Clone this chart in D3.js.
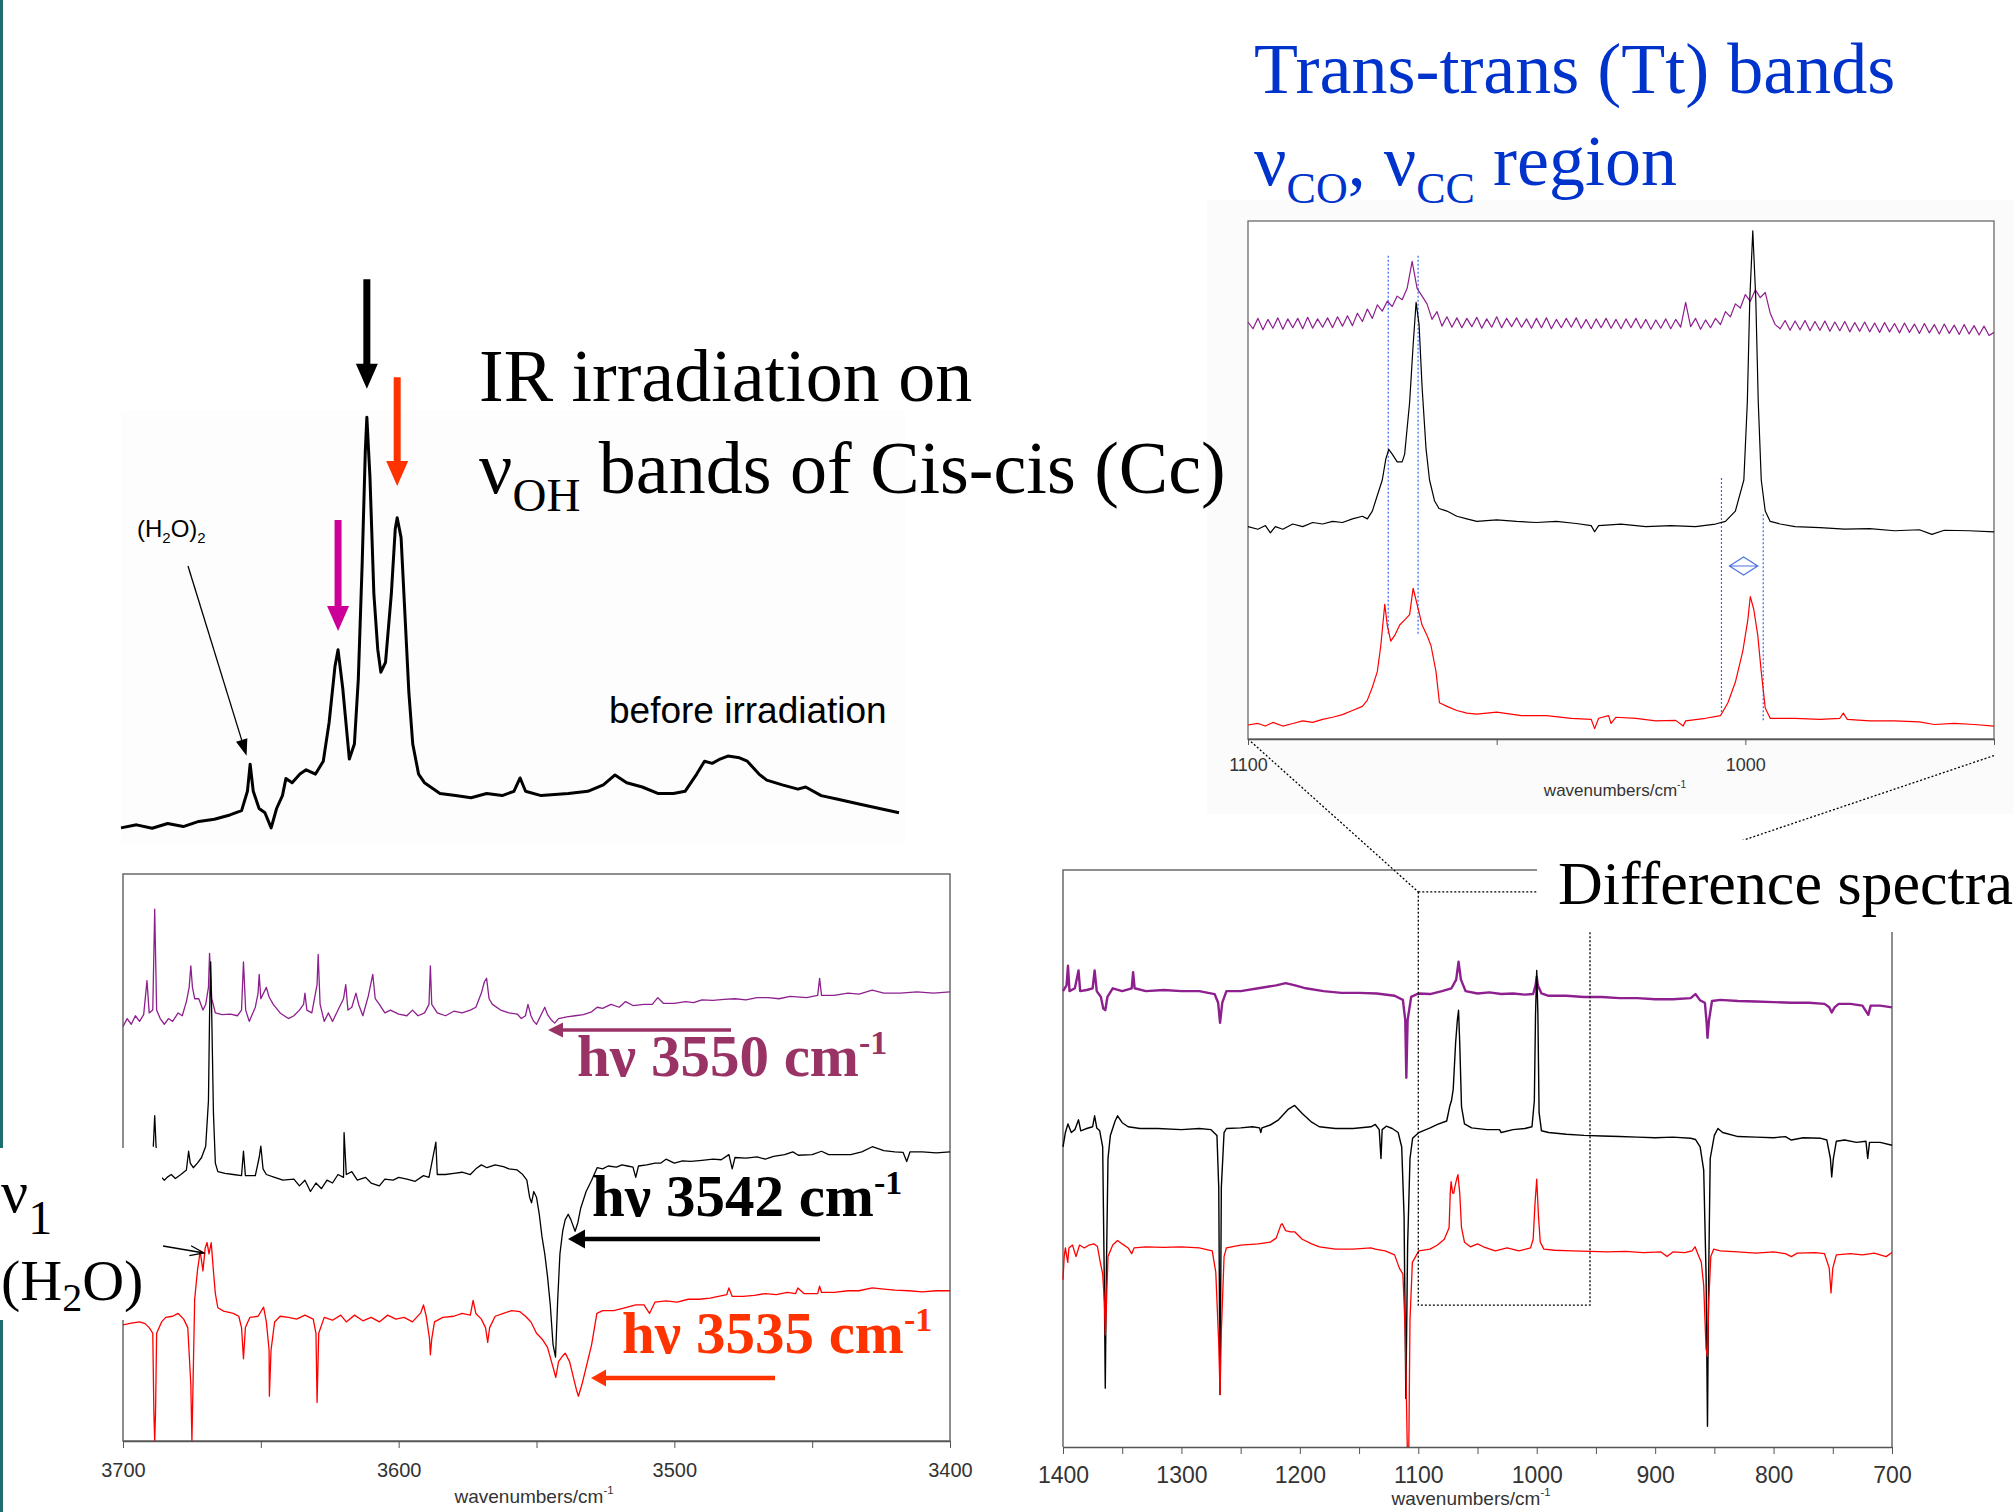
<!DOCTYPE html>
<html>
<head>
<meta charset="utf-8">
<script src="https://d3js.org/d3.v7.min.js"></script>
<style>
body { margin: 0; background: #fff; }
svg { display: block; }
.serif { font-family: "Liberation Serif", "Times New Roman", serif; }
.sans { font-family: "Liberation Sans", Arial, sans-serif; }
</style>
</head>
<body>
<div id="chart"></div>
<script>
// ---- before irradiation, Cc OH stretch region [wavenumber, absorbance] ----
var beforeIrr = [[3620,0.005],[3616,0.012],[3612,0.004],[3608,0.015],[3604,0.008],[3600,0.02],[3596,0.025],[3592,0.035],[3589,0.045],[3587.5,0.09],[3586.8,0.153],[3586,0.09],[3584.5,0.05],[3583,0.04],[3581.4,0.005],[3580,0.05],[3578.5,0.08],[3577.6,0.12],[3576,0.11],[3574,0.13],[3572.4,0.14],[3570,0.13],[3568,0.16],[3566.5,0.25],[3565,0.38],[3564.2,0.419],[3563,0.33],[3561.3,0.165],[3560,0.2],[3559,0.35],[3558,0.62],[3557.2,0.88],[3556.8,0.96],[3556,0.82],[3555,0.55],[3554,0.42],[3553.2,0.367],[3552,0.39],[3550.5,0.55],[3549.5,0.70],[3549,0.726],[3548,0.68],[3547,0.50],[3546,0.32],[3545,0.20],[3543.5,0.13],[3542,0.11],[3538,0.085],[3534,0.08],[3530,0.075],[3526,0.085],[3522,0.08],[3519,0.09],[3517.4,0.121],[3516,0.09],[3512,0.08],[3505,0.085],[3500,0.09],[3496,0.105],[3493,0.128],[3490,0.11],[3486,0.1],[3482,0.085],[3478,0.085],[3475,0.09],[3472,0.13],[3470,0.16],[3468,0.155],[3466,0.165],[3464,0.172],[3461,0.168],[3459,0.16],[3456,0.13],[3454,0.116],[3450,0.105],[3446,0.095],[3444,0.1],[3440,0.08],[3436,0.072],[3430,0.06],[3425,0.05],[3420,0.04]];
var cisPeaks = [3564.2, 3556.8, 3549.0];

// ---- difference spectra, OH region ----
var diffOH3550 = [[3700,0.731],[3698.5,0.745],[3697,0.735],[3695.5,0.75],[3694,0.74],[3692.5,0.752],[3691.3,0.812],[3690.5,0.755],[3689.2,0.76],[3688.5,0.938],[3687.8,0.76],[3686.5,0.745],[3685,0.735],[3683.5,0.745],[3682,0.74],[3680,0.755],[3678.5,0.75],[3677,0.775],[3676,0.80],[3675.4,0.838],[3674.8,0.80],[3674,0.78],[3672.5,0.78],[3671,0.76],[3670,0.77],[3669,0.80],[3668.6,0.86],[3667.8,0.78],[3666.5,0.755],[3664,0.752],[3661,0.753],[3658.5,0.75],[3657,0.76],[3656.3,0.845],[3655.5,0.76],[3654.2,0.74],[3652,0.765],[3651,0.79],[3650.6,0.823],[3650,0.78],[3648,0.80],[3647,0.783],[3645.5,0.77],[3643,0.755],[3640,0.745],[3638,0.75],[3636,0.76],[3634.5,0.77],[3634,0.79],[3633.3,0.76],[3631.5,0.755],[3629.6,0.805],[3629.2,0.858],[3628.5,0.77],[3627,0.74],[3625.5,0.755],[3624,0.74],[3622,0.76],[3620,0.78],[3619.2,0.805],[3618.4,0.76],[3617,0.765],[3615.5,0.79],[3614.5,0.77],[3613,0.75],[3611,0.785],[3609.4,0.823],[3608.5,0.78],[3607,0.77],[3605,0.755],[3603,0.76],[3600,0.753],[3597,0.75],[3595,0.76],[3593,0.75],[3590.6,0.755],[3589,0.77],[3588.5,0.838],[3588,0.77],[3586,0.755],[3583,0.75],[3580,0.758],[3577,0.755],[3574,0.76],[3572,0.765],[3570,0.79],[3568.9,0.81],[3568.1,0.816],[3567.2,0.78],[3566,0.77],[3563,0.76],[3560,0.755],[3557,0.753],[3555.5,0.745],[3554,0.75],[3553.1,0.77],[3552,0.75],[3551,0.74],[3550,0.735],[3548.5,0.75],[3547,0.765],[3546,0.752],[3544.5,0.742],[3543.4,0.737],[3542,0.745],[3539,0.748],[3536,0.75],[3533,0.752],[3530,0.757],[3528,0.765],[3526,0.763],[3523,0.77],[3520,0.765],[3517.7,0.775],[3515,0.768],[3511,0.77],[3508,0.77],[3506,0.782],[3504,0.772],[3500,0.772],[3496,0.775],[3493,0.773],[3490,0.778],[3486,0.777],[3482,0.779],[3478,0.78],[3474,0.778],[3470,0.782],[3466,0.782],[3462,0.78],[3458,0.784],[3452,0.782],[3448,0.786],[3447.3,0.816],[3446.6,0.786],[3442,0.786],[3437,0.79],[3433,0.788],[3428.2,0.795],[3424,0.79],[3418,0.79],[3412,0.792],[3406,0.79],[3400,0.792]];
var diffOH3542 = [[3689,0.519],[3688.5,0.574],[3688,0.519],[3687,0.47],[3686,0.465],[3685,0.46],[3684,0.465],[3682.5,0.47],[3681,0.463],[3679,0.47],[3677,0.478],[3676.2,0.511],[3675.6,0.49],[3674.5,0.482],[3673,0.49],[3671.5,0.50],[3670,0.52],[3669,0.6],[3668.6,0.75],[3668.2,0.845],[3667.8,0.75],[3667.2,0.58],[3666.5,0.49],[3665.6,0.475],[3663,0.472],[3660,0.47],[3657,0.468],[3656.3,0.511],[3655.6,0.468],[3652,0.468],[3650.6,0.5],[3650,0.52],[3649.2,0.48],[3648,0.47],[3645,0.465],[3642,0.46],[3638,0.462],[3636,0.45],[3634,0.46],[3632,0.44],[3630,0.455],[3628,0.445],[3626,0.46],[3624,0.455],[3622,0.47],[3620,0.465],[3619.8,0.544],[3619,0.47],[3617,0.475],[3615,0.46],[3612,0.465],[3610,0.455],[3607,0.45],[3605,0.462],[3602,0.46],[3600,0.465],[3597,0.462],[3594,0.458],[3591,0.468],[3589,0.465],[3586.5,0.527],[3586,0.47],[3583,0.47],[3580,0.472],[3577,0.474],[3574,0.47],[3572,0.48],[3570,0.487],[3568,0.482],[3565,0.487],[3562,0.484],[3560,0.48],[3557,0.478],[3555,0.47],[3553.5,0.46],[3552.5,0.43],[3551.8,0.42],[3551,0.44],[3550,0.43],[3549,0.40],[3548,0.36],[3547,0.33],[3546,0.29],[3545,0.24],[3544,0.17],[3543.1,0.148],[3542.3,0.25],[3541.5,0.33],[3540.5,0.37],[3539.6,0.39],[3538.5,0.40],[3537.5,0.39],[3536,0.37],[3535,0.385],[3534,0.41],[3532,0.44],[3530,0.46],[3528,0.482],[3526,0.48],[3524,0.485],[3521,0.483],[3519,0.487],[3517,0.485],[3515,0.483],[3514,0.465],[3513,0.485],[3510,0.487],[3507,0.49],[3505,0.49],[3503,0.497],[3500,0.49],[3497,0.494],[3494,0.493],[3490,0.495],[3486,0.497],[3483,0.496],[3480.2,0.505],[3479,0.48],[3478,0.5],[3474,0.499],[3470,0.501],[3467,0.497],[3464,0.502],[3460,0.505],[3457,0.51],[3455,0.504],[3450,0.505],[3446.6,0.511],[3444,0.505],[3440,0.505],[3436,0.505],[3432,0.51],[3428.2,0.519],[3424,0.512],[3420,0.51],[3417,0.509],[3415.7,0.493],[3414.5,0.51],[3410,0.51],[3405,0.508],[3400,0.51]];
var diffOH3535 = [[3700,0.205],[3697,0.208],[3694,0.21],[3692,0.207],[3690.5,0.2],[3689.2,0.19],[3688.8,0.05],[3688.5,0.0],[3688.2,0.05],[3687.8,0.19],[3686,0.21],[3684.5,0.218],[3682,0.22],[3680,0.225],[3678,0.215],[3676.5,0.2],[3675.4,0.1],[3675,0.0],[3674.6,0.1],[3674,0.25],[3673,0.3],[3672,0.335],[3671,0.3],[3670.2,0.34],[3669.5,0.35],[3668.8,0.33],[3668,0.35],[3667.2,0.3],[3666.5,0.26],[3665.6,0.235],[3663.5,0.229],[3660,0.225],[3658,0.22],[3657,0.2],[3656.3,0.145],[3655.6,0.2],[3654,0.218],[3651,0.22],[3649,0.236],[3648,0.21],[3647,0.16],[3646.9,0.079],[3646.3,0.16],[3645,0.21],[3643,0.22],[3640,0.218],[3637,0.215],[3634,0.222],[3631,0.215],[3630,0.19],[3629.6,0.068],[3629,0.19],[3627,0.218],[3624,0.213],[3621,0.222],[3619,0.21],[3616,0.222],[3613,0.212],[3610,0.218],[3607,0.21],[3604,0.222],[3601,0.215],[3598,0.218],[3595,0.21],[3592,0.226],[3591,0.24],[3590,0.22],[3588.8,0.18],[3588.5,0.152],[3588,0.18],[3587,0.21],[3584,0.218],[3580,0.22],[3577,0.225],[3574,0.222],[3573,0.248],[3572,0.225],[3570,0.215],[3568.5,0.2],[3567.7,0.174],[3567,0.2],[3565,0.22],[3562,0.225],[3559,0.23],[3556,0.228],[3554,0.22],[3552,0.21],[3550,0.19],[3548,0.18],[3546,0.165],[3544,0.13],[3543,0.112],[3542,0.14],[3540.5,0.15],[3539.6,0.155],[3538,0.14],[3536.5,0.11],[3535.5,0.09],[3534.8,0.079],[3533.5,0.1],[3532,0.13],[3530,0.17],[3528.1,0.225],[3526,0.23],[3522,0.23],[3518,0.235],[3514,0.24],[3511,0.24],[3509,0.225],[3507,0.245],[3503,0.247],[3499,0.245],[3495,0.25],[3491,0.25],[3487,0.252],[3484,0.255],[3481,0.258],[3480.2,0.27],[3479,0.255],[3475,0.255],[3471,0.257],[3467,0.26],[3463,0.258],[3459,0.262],[3456,0.26],[3455.2,0.27],[3453,0.26],[3448,0.26],[3447.3,0.273],[3446.6,0.262],[3442,0.262],[3437,0.265],[3433,0.265],[3428.2,0.27],[3424,0.268],[3420,0.266],[3415,0.265],[3410,0.263],[3405,0.265],[3400,0.265]];
var pumpLabels = ['3550', '3542', '3535'];

// ---- difference spectra, 1400-700 cm-1 ----
var diffCO3550 = [[1400,0.79],[1397,0.80],[1395.8,0.834],[1394.5,0.79],[1390,0.795],[1386.9,0.826],[1385.5,0.79],[1380,0.792],[1375,0.795],[1373.3,0.826],[1371.5,0.79],[1368,0.78],[1366,0.76],[1364.3,0.757],[1362.5,0.78],[1358,0.795],[1350,0.79],[1342,0.795],[1340.8,0.823],[1339.5,0.795],[1330,0.79],[1315,0.792],[1300,0.79],[1285,0.79],[1272,0.785],[1269,0.77],[1267.4,0.735],[1265.5,0.77],[1262,0.79],[1250,0.79],[1235,0.795],[1220,0.80],[1212,0.804],[1204,0.80],[1195,0.795],[1180,0.79],[1165,0.787],[1150,0.787],[1135,0.786],[1120,0.782],[1113,0.775],[1111,0.74],[1110.1,0.64],[1109,0.74],[1106,0.78],[1100,0.786],[1090,0.785],[1080,0.79],[1072,0.795],[1068,0.81],[1066,0.841],[1064,0.81],[1060,0.79],[1050,0.786],[1040,0.788],[1030,0.785],[1020,0.786],[1010,0.784],[1003,0.785],[1001,0.80],[1000,0.815],[999,0.80],[996,0.786],[990,0.782],[975,0.782],[960,0.78],[945,0.78],[930,0.778],[915,0.778],[900,0.776],[885,0.776],[870,0.778],[866,0.785],[862,0.774],[858,0.77],[856.5,0.735],[855.8,0.709],[854.5,0.74],[852,0.773],[845,0.775],[830,0.773],[815,0.772],[800,0.771],[785,0.77],[770,0.77],[757,0.768],[753,0.762],[750.9,0.753],[748.5,0.762],[745,0.768],[735,0.768],[725,0.765],[720,0.749],[718,0.765],[710,0.765],[700,0.762]];
var diffCO3542 = [[1400,0.52],[1398,0.545],[1395.8,0.56],[1393,0.545],[1390,0.55],[1386.9,0.567],[1385,0.548],[1380,0.552],[1375,0.555],[1373.3,0.574],[1371.5,0.553],[1369,0.548],[1366.5,0.52],[1365.2,0.30],[1364.3,0.102],[1363.4,0.30],[1362,0.50],[1360,0.54],[1356,0.565],[1353.9,0.574],[1350,0.562],[1345,0.555],[1335,0.552],[1320,0.552],[1300,0.55],[1285,0.552],[1275,0.55],[1270,0.54],[1268.5,0.45],[1267.4,0.091],[1266.3,0.45],[1264,0.545],[1262,0.552],[1250,0.553],[1240,0.555],[1234,0.553],[1233,0.545],[1232,0.553],[1225,0.558],[1218,0.567],[1210,0.585],[1204.4,0.592],[1198,0.578],[1190,0.563],[1183.5,0.555],[1170,0.552],[1155,0.552],[1140,0.555],[1136.3,0.559],[1133,0.55],[1131.5,0.50],[1130.5,0.55],[1127,0.556],[1122,0.552],[1117,0.545],[1114,0.52],[1112,0.40],[1110.5,0.084],[1109,0.35],[1107,0.50],[1104.8,0.535],[1099.6,0.545],[1090,0.553],[1083.8,0.559],[1076,0.565],[1073.5,0.59],[1072,0.60],[1070.5,0.62],[1068.5,0.70],[1067,0.74],[1066,0.757],[1065,0.70],[1063.5,0.59],[1061,0.56],[1055,0.553],[1041.9,0.55],[1031.4,0.55],[1030,0.545],[1020,0.55],[1010,0.552],[1004,0.555],[1002,0.60],[1001,0.75],[1000,0.826],[999,0.75],[998,0.58],[996,0.548],[990,0.545],[975,0.542],[960,0.54],[945,0.539],[930,0.538],[915,0.537],[900,0.536],[885,0.537],[870,0.535],[866,0.533],[862,0.52],[859,0.48],[857,0.30],[855.8,0.036],[854.8,0.30],[853.5,0.50],[850,0.54],[847,0.552],[843,0.545],[830,0.538],[815,0.537],[800,0.536],[790,0.538],[785,0.532],[775,0.536],[760,0.535],[755,0.532],[752,0.50],[750.9,0.468],[749.5,0.50],[747,0.53],[740,0.532],[730,0.528],[722,0.53],[720.5,0.50],[719,0.528],[710,0.528],[700,0.523]];
var diffCO3535 = [[1400,0.29],[1399,0.33],[1398,0.345],[1396,0.32],[1395,0.345],[1392,0.35],[1389,0.33],[1386,0.35],[1382,0.345],[1378,0.35],[1374,0.352],[1371,0.348],[1368.5,0.32],[1366.5,0.30],[1365,0.25],[1364.3,0.194],[1363.3,0.25],[1362,0.33],[1358,0.35],[1353.9,0.358],[1350,0.352],[1345,0.345],[1342,0.335],[1340,0.345],[1330,0.347],[1315,0.346],[1300,0.347],[1285,0.345],[1274,0.34],[1271,0.303],[1268.5,0.18],[1267.4,0.091],[1266.3,0.2],[1264,0.33],[1262,0.345],[1250,0.35],[1235,0.352],[1225,0.355],[1220,0.362],[1216,0.385],[1214.9,0.387],[1212,0.375],[1208,0.373],[1204.4,0.373],[1198,0.36],[1190,0.352],[1183.5,0.347],[1170,0.343],[1155,0.343],[1140,0.345],[1136.3,0.343],[1128,0.34],[1120,0.333],[1116,0.31],[1113,0.3],[1111,0.2],[1109.3,0.0],[1108,0.0],[1107,0.22],[1105,0.32],[1099.6,0.34],[1090,0.343],[1083.8,0.35],[1078,0.36],[1074,0.38],[1073,0.44],[1072.3,0.46],[1071,0.44],[1070,0.44],[1069.2,0.45],[1067.5,0.465],[1066.5,0.472],[1065,0.44],[1063.5,0.38],[1061,0.355],[1056,0.347],[1050,0.352],[1045,0.347],[1035,0.34],[1025,0.345],[1015,0.34],[1005.2,0.345],[1003,0.36],[1001.5,0.42],[1000,0.464],[998.5,0.4],[997,0.355],[994,0.343],[985,0.341],[970,0.34],[955,0.339],[940,0.338],[925,0.339],[910,0.337],[895,0.338],[890,0.33],[885,0.338],[875,0.337],[868.9,0.34],[866.3,0.347],[864,0.335],[861,0.32],[859,0.28],[857,0.17],[855.8,0.157],[854.8,0.25],[853,0.33],[850.5,0.343],[845,0.34],[830,0.338],[815,0.336],[800,0.338],[790,0.335],[785,0.33],[780,0.336],[765,0.337],[757,0.335],[753,0.31],[751.5,0.267],[750,0.31],[747,0.333],[735,0.335],[725,0.333],[715,0.336],[705,0.33],[700,0.337]];
var zoomWindow = [1100, 955];

// ---- zoom on Tt bands, 1100-950 cm-1 ----
var zoomCO3550 = [[1100,.805],[1099,.792],[1098,.812],[1097,.790],[1096,.810],[1095,.793],[1094,.813],[1093,.791],[1092,.811],[1091,.794],[1090,.812],[1089,.792],[1088,.814],[1087,.793],[1086,.811],[1085,.795],[1084,.813],[1083,.794],[1082,.815],[1081,.797],[1080,.817],[1079,.798],[1078,.822],[1077,.806],[1076,.830],[1075,.812],[1074,.838],[1073,.826],[1072,.845],[1071,.835],[1070,.855],[1069,.848],[1068,.870],[1067,.922],[1066,.870],[1065,.855],[1064,.840],[1063,.810],[1062,.825],[1061,.797],[1060,.815],[1059,.795],[1058,.813],[1057,.794],[1056,.812],[1055,.796],[1054,.814],[1053,.793],[1052,.811],[1051,.795],[1050,.815],[1049,.794],[1048,.812],[1047,.796],[1046,.813],[1045,.795],[1044,.811],[1043,.793],[1042,.812],[1041,.794],[1040,.813],[1039,.792],[1038,.810],[1037,.794],[1036,.812],[1035,.795],[1034,.813],[1033,.793],[1032,.810],[1031,.792],[1030,.811],[1029,.794],[1028,.812],[1027,.793],[1026,.810],[1025,.792],[1024,.811],[1023,.794],[1022,.812],[1021,.793],[1020,.810],[1019,.791],[1018,.809],[1017,.793],[1016,.811],[1015,.792],[1014,.810],[1013,.795],[1012,.843],[1011,.796],[1010,.812],[1009,.791],[1008,.809],[1007,.794],[1006,.812],[1005,.800],[1004,.825],[1003,.815],[1002,.840],[1001,.832],[1000,.858],[999,.845],[998,.867],[997,.852],[996,.862],[995,.822],[994,.800],[993,.792],[992,.808],[991,.789],[990,.807],[989,.790],[988,.808],[987,.788],[986,.806],[985,.789],[984,.807],[983,.787],[982,.805],[981,.788],[980,.806],[979,.786],[978,.804],[977,.787],[976,.805],[975,.786],[974,.803],[973,.785],[972,.804],[971,.786],[970,.802],[969,.784],[968,.803],[967,.785],[966,.801],[965,.783],[964,.802],[963,.784],[962,.800],[961,.782],[960,.801],[959,.783],[958,.799],[957,.781],[956,.800],[955,.782],[954,.798],[953,.780],[952,.797],[951,.779],[950,.785]];
var zoomCO3542 = [[1100,0.41],[1098,0.405],[1096.5,0.412],[1095.5,0.398],[1094.5,0.41],[1093,0.405],[1091,0.415],[1089,0.41],[1087,0.418],[1085,0.415],[1083,0.42],[1081,0.418],[1079,0.425],[1077,0.43],[1076,0.425],[1075,0.44],[1074,0.47],[1073,0.5],[1072.3,0.54],[1071.7,0.559],[1071,0.55],[1070,0.535],[1069,0.535],[1068.5,0.55],[1067.5,0.65],[1066.8,0.76],[1066.2,0.843],[1065.6,0.8],[1065,0.68],[1064.2,0.56],[1063.5,0.5],[1062.5,0.46],[1061.6,0.445],[1060,0.44],[1058,0.43],[1056,0.425],[1054,0.42],[1050,0.423],[1046,0.42],[1042,0.418],[1038,0.42],[1034,0.416],[1031,0.412],[1030.3,0.4],[1029.5,0.412],[1025,0.415],[1020,0.41],[1015,0.412],[1010,0.41],[1006,0.415],[1004,0.42],[1002,0.44],[1000.3,0.5],[999.6,0.65],[999.1,0.85],[998.5,0.981],[997.9,0.85],[997.4,0.65],[996.8,0.5],[996,0.44],[995,0.42],[993,0.415],[990,0.41],[985,0.408],[980,0.405],[975,0.406],[970,0.402],[965,0.404],[962.5,0.395],[960,0.403],[955,0.402],[950,0.4]];
var zoomCO3535 = [[1100,0.027],[1098,0.03],[1096.5,0.025],[1095,0.032],[1093,0.025],[1091,0.03],[1089,0.035],[1087,0.032],[1085,0.038],[1083,0.042],[1081,0.047],[1079,0.055],[1077,0.063],[1076,0.075],[1075,0.1],[1074,0.13],[1073.3,0.18],[1072.5,0.26],[1072,0.22],[1071.3,0.189],[1070.5,0.2],[1069.5,0.22],[1068.5,0.23],[1067.5,0.24],[1066.8,0.291],[1066,0.26],[1065,0.22],[1064,0.2],[1063.2,0.18],[1062.2,0.13],[1061.5,0.07],[1060,0.063],[1058,0.055],[1056,0.05],[1054,0.048],[1050,0.052],[1045,0.045],[1040,0.045],[1035,0.04],[1031,0.038],[1030.3,0.02],[1029.5,0.04],[1027.5,0.045],[1027,0.03],[1026,0.042],[1022,0.04],[1018,0.035],[1014,0.036],[1012.5,0.025],[1012,0.035],[1008,0.04],[1005,0.045],[1003.5,0.07],[1002,0.11],[1000.5,0.17],[999.5,0.23],[999,0.275],[998.3,0.25],[997.5,0.2],[996.8,0.13],[996,0.06],[995,0.04],[990,0.04],[985,0.038],[981,0.04],[980.3,0.05],[979.5,0.038],[975,0.035],[970,0.035],[965,0.033],[962,0.028],[958,0.03],[954,0.028],[950,0.025]];
var zoomMarkers = [1071.8, 1065.8, 1004.8, 996.4];

// tick labels
var ohTicks = [3700, 3600, 3500, 3400];
var coTicks = [1400, 1300, 1200, 1100, 1000, 900, 800, 700];
var zoomTicks = [1100, 1000];

var PURPLE = '#8e1f8e', RED = '#ff0000', BLUE = '#0033cc';

var svg = d3.select('#chart').append('svg')
    .attr('width', 2014)
    .attr('height', 1512);

svg.append('rect').attr('width', 2014).attr('height', 1512).attr('fill', '#fff');

// faint backgrounds of the pasted figures (plot areas stay white)
svg.append('rect').attr('x', 121).attr('y', 410).attr('width', 784).attr('height', 435).attr('fill', '#fdfdfd');
svg.append('rect').attr('x', 1207).attr('y', 200).attr('width', 807).attr('height', 614).attr('fill', '#fbfbfb');
svg.append('rect').attr('x', 1248).attr('y', 221).attr('width', 746).attr('height', 518).attr('fill', '#fff');

// slide edge
svg.append('rect').attr('x', 0).attr('y', 0).attr('width', 3).attr('height', 1512).attr('fill', '#1f6e6e');

function trace(g, data, x, y, color, width) {
    var line = d3.line()
        .x(function (d) { return x(d[0]); })
        .y(function (d) { return y(d[1]); });
    g.append('path')
        .datum(data)
        .attr('d', line)
        .attr('fill', 'none')
        .attr('stroke', color)
        .attr('stroke-width', width)
        .attr('stroke-linejoin', 'round');
}

function styleAxis(ax, size) {
    ax.attr('font-family', '"Liberation Sans", Arial, sans-serif').attr('font-size', size);
    ax.select('.domain').attr('stroke', '#555').attr('stroke-width', 1.5);
    ax.selectAll('.tick line').attr('stroke', '#555');
    ax.selectAll('.tick text').attr('fill', '#333');
}

function axisTitle(xc, yb, size) {
    var t = svg.append('text').attr('class', 'sans').attr('x', xc).attr('y', yb)
        .attr('text-anchor', 'middle').attr('font-size', size).attr('fill', '#333')
        .text('wavenumbers/cm');
    t.append('tspan').attr('dy', -size * 0.45).attr('font-size', size * 0.6).text('-1');
}

function blockArrow(xc, yTail, yTip, color) {
    var sw = 3.5, hw = 11, hl = 25;
    svg.append('path')
        .attr('d', 'M' + (xc - sw) + ',' + yTail + 'V' + (yTip - hl) + 'H' + (xc - hw) + 'L' + xc + ',' + yTip +
            'L' + (xc + hw) + ',' + (yTip - hl) + 'H' + (xc + sw) + 'V' + yTail + 'Z')
        .attr('fill', color);
}

function hArrow(xTail, xTip, yc, color, sw, hl, hh) {
    svg.append('line').attr('x1', xTail).attr('x2', xTip + hl - 1).attr('y1', yc).attr('y2', yc)
        .attr('stroke', color).attr('stroke-width', sw);
    svg.append('path')
        .attr('d', 'M' + xTip + ',' + yc + 'L' + (xTip + hl) + ',' + (yc - hh / 2) + 'L' + (xTip + hl) + ',' + (yc + hh / 2) + 'Z')
        .attr('fill', color);
}

function thinArrow(x1, y1, x2, y2, filled) {
    var a = Math.atan2(y2 - y1, x2 - x1), hl = 14, hw = 5;
    var bx = x2 - hl * Math.cos(a), by = y2 - hl * Math.sin(a);
    var px = -Math.sin(a) * hw, py = Math.cos(a) * hw;
    svg.append('line').attr('x1', x1).attr('y1', y1).attr('x2', filled ? bx : x2).attr('y2', filled ? by : y2)
        .attr('stroke', '#000').attr('stroke-width', 1.3);
    var head = 'M' + (bx + px) + ',' + (by + py) + 'L' + x2 + ',' + y2 + 'L' + (bx - px) + ',' + (by - py);
    svg.append('path').attr('d', filled ? head + 'Z' : head)
        .attr('fill', filled ? '#000' : 'none').attr('stroke', '#000').attr('stroke-width', 1.3);
}

// ===== top-left: spectrum before irradiation =====
var xB = d3.scaleLinear().domain([3620, 3420]).range([121, 899]);
var yB = d3.scaleLinear().domain([0, 1]).range([830, 400]);
trace(svg, beforeIrr, xB, yB, '#000', 3);

var peakColors = ['#cc0099', '#000000', '#ff3300'];
var arrowSpan = [[0.721, 0.463], [1.281, 1.026], [1.053, 0.80]];
cisPeaks.forEach(function (p, i) {
    blockArrow(xB(p), yB(arrowSpan[i][0]), yB(arrowSpan[i][1]), peakColors[i]);
});

svg.append('text').attr('class', 'sans').attr('x', 609).attr('y', 723)
    .attr('font-size', 37).text('before irradiation');

var h2o = svg.append('text').attr('class', 'sans').attr('x', 137).attr('y', 537).attr('font-size', 24);
h2o.append('tspan').text('(H');
h2o.append('tspan').attr('dy', 6).attr('font-size', 15).text('2');
h2o.append('tspan').attr('dy', -6).text('O)');
h2o.append('tspan').attr('dy', 6).attr('font-size', 15).text('2');
thinArrow(188, 566, 246, 754, true);

// main heading
svg.append('text').attr('class', 'serif').attr('x', 479).attr('y', 401)
    .attr('font-size', 74).text('IR irradiation on');
var l2 = svg.append('text').attr('class', 'serif').attr('x', 479).attr('y', 493).attr('font-size', 74);
l2.append('tspan').text('\u03bd');
l2.append('tspan').attr('dy', 18).attr('font-size', 47).text('OH');
l2.append('tspan').attr('dy', -18).text(' bands of Cis-cis (Cc)');

// blue heading
svg.append('text').attr('class', 'serif').attr('x', 1254).attr('y', 93)
    .attr('font-size', 72).attr('fill', BLUE).text('Trans-trans (Tt) bands');
var t2 = svg.append('text').attr('class', 'serif').attr('x', 1254).attr('y', 185)
    .attr('font-size', 72).attr('fill', BLUE);
t2.append('tspan').text('\u03bd');
t2.append('tspan').attr('dy', 18).attr('font-size', 44).text('CO');
t2.append('tspan').attr('dy', -18).text(', \u03bd');
t2.append('tspan').attr('dy', 18).attr('font-size', 44).text('CC');
t2.append('tspan').attr('dy', -18).text(' region');

// ===== bottom-left: difference spectra, OH region =====
var xL = d3.scaleLinear().domain([3700, 3400]).range([123, 950]);
var yL = d3.scaleLinear().domain([0, 1]).range([1441, 874]);

svg.append('rect').attr('x', 123).attr('y', 874).attr('width', 827).attr('height', 567)
    .attr('fill', 'none').attr('stroke', '#6a6a6a').attr('stroke-width', 1.5);

trace(svg, diffOH3550, xL, yL, PURPLE, 1.3);
trace(svg, diffOH3542, xL, yL, '#000', 1.3);
trace(svg, diffOH3535, xL, yL, RED, 1.3);

var axL = svg.append('g').attr('transform', 'translate(0,1441)')
    .call(d3.axisBottom(xL).tickValues(d3.range(3700, 3399, -50)).tickSize(7).tickSizeOuter(0).tickPadding(15)
        .tickFormat(function (d) { return ohTicks.indexOf(d) >= 0 ? d : ''; }));
styleAxis(axL, 20);
axisTitle(534, 1503, 19);

// nu1 (H2O) label on its white box
svg.append('rect').attr('x', -5).attr('y', 1148).attr('width', 167).attr('height', 172).attr('fill', '#fff');
var nu1 = svg.append('text').attr('class', 'serif').attr('x', 1).attr('y', 1212).attr('font-size', 60);
nu1.append('tspan').text('\u03bd');
nu1.append('tspan').attr('dy', 22).attr('font-size', 48).text('1');
var wat = svg.append('text').attr('class', 'serif').attr('x', 1).attr('y', 1300).attr('font-size', 58);
wat.append('tspan').text('(H');
wat.append('tspan').attr('dy', 11).attr('font-size', 40).text('2');
wat.append('tspan').attr('dy', -11).text('O)');
thinArrow(163, 1246, 204, 1253, false);

// pump labels and arrows
var pumpColors = ['#993366', '#000000', '#ff3300'];
var pumpText = [[577, 1076], [592, 1216], [622, 1353]];
var pumpArrow = [[731, 548, 1030, 3.5, 15, 15], [820, 568, 1239, 4.5, 17, 19], [775, 591, 1378, 4.5, 15, 17]];
pumpLabels.forEach(function (lab, i) {
    var a = pumpArrow[i];
    hArrow(a[0], a[1], a[2], pumpColors[i], a[3], a[4], a[5]);
    var t = svg.append('text').attr('class', 'serif').attr('x', pumpText[i][0]).attr('y', pumpText[i][1])
        .attr('font-size', 59).attr('font-weight', 'bold').attr('fill', pumpColors[i]);
    t.append('tspan').text('h\u03bd ' + lab + ' cm');
    t.append('tspan').attr('dy', -22).attr('font-size', 34).text('-1');
});

// ===== bottom-right: difference spectra, 1400-700 =====
var xR = d3.scaleLinear().domain([1400, 700]).range([1063, 1892]);
var yR = d3.scaleLinear().domain([0, 1]).range([1447, 870]);

svg.append('path').attr('d', 'M1063,1447V870H1892V1447')
    .attr('fill', 'none').attr('stroke', '#6a6a6a').attr('stroke-width', 1.5);

trace(svg, diffCO3550, xR, yR, PURPLE, 2.4);
trace(svg, diffCO3542, xR, yR, '#000', 1.4);
trace(svg, diffCO3535, xR, yR, RED, 1.3);

var axR = svg.append('g').attr('transform', 'translate(0,1447)')
    .call(d3.axisBottom(xR).tickValues(d3.range(1400, 699, -50)).tickSize(7).tickSizeOuter(0).tickPadding(13)
        .tickFormat(function (d) { return coTicks.indexOf(d) >= 0 ? d : ''; }));
styleAxis(axR, 23);
axisTitle(1471, 1505, 19);

// dotted zoom window and connectors
var zx0 = xR(zoomWindow[0]), zx1 = xR(zoomWindow[1]), zy0 = yR(0.962), zy1 = yR(0.246);
svg.append('rect').attr('x', zx0).attr('y', zy0).attr('width', zx1 - zx0).attr('height', zy1 - zy0)
    .attr('fill', 'none').attr('stroke', '#000').attr('stroke-width', 1.3).attr('stroke-dasharray', '2,2');

// ===== inset: Tt bands 1100-950 =====
var xI = d3.scaleLinear().domain([1100, 950]).range([1248, 1994]);
var yI = d3.scaleLinear().domain([0, 1]).range([739, 221]);

svg.append('line').attr('x1', xI(1100)).attr('y1', yI(0)).attr('x2', zx0).attr('y2', zy0)
    .attr('stroke', '#000').attr('stroke-width', 1.3).attr('stroke-dasharray', '2,2');
svg.append('line').attr('x1', xI(950)).attr('y1', yI(-0.032)).attr('x2', zx1).attr('y2', zy0)
    .attr('stroke', '#000').attr('stroke-width', 1.3).attr('stroke-dasharray', '2,2');

svg.append('rect').attr('x', 1248).attr('y', 221).attr('width', 746).attr('height', 518)
    .attr('fill', 'none').attr('stroke', '#6a6a6a').attr('stroke-width', 1.3);

var markerSpan = [[0.933, 0.201], [0.933, 0.201], [0.504, 0.047], [0.434, 0.035]];
zoomMarkers.forEach(function (m, i) {
    svg.append('line').attr('x1', xI(m)).attr('x2', xI(m))
        .attr('y1', yI(markerSpan[i][0])).attr('y2', yI(markerSpan[i][1]))
        .attr('stroke', '#3366ff').attr('stroke-width', 1.2).attr('stroke-dasharray', '2,2');
});

trace(svg, zoomCO3550, xI, yI, PURPLE, 1.2);
trace(svg, zoomCO3542, xI, yI, '#000', 1.2);
trace(svg, zoomCO3535, xI, yI, RED, 1.2);

// width marker
var dxa = xI(1003.2), dxb = xI(997.5), dyc = yI(0.334);
svg.append('path')
    .attr('d', 'M' + dxa + ',' + dyc + 'L' + ((dxa + dxb) / 2) + ',' + (dyc - 9) + 'L' + dxb + ',' + dyc +
        'L' + ((dxa + dxb) / 2) + ',' + (dyc + 9) + 'Z M' + dxa + ',' + dyc + 'H' + dxb)
    .attr('fill', 'none').attr('stroke', '#4d72e3').attr('stroke-width', 1.2);

var axI = svg.append('g').attr('transform', 'translate(0,739)')
    .call(d3.axisBottom(xI).tickValues([1100, 1050, 1000, 950]).tickSize(6).tickSizeOuter(0).tickPadding(13)
        .tickFormat(function (d) { return zoomTicks.indexOf(d) >= 0 ? d : ''; }));
styleAxis(axI, 18);
axisTitle(1615, 796, 17);

// "Difference spectra" label on a white box
svg.append('rect').attr('x', 1537).attr('y', 840).attr('width', 477).attr('height', 92).attr('fill', '#fff');
svg.append('text').attr('class', 'serif').attr('x', 1558).attr('y', 904)
    .attr('font-size', 62).text('Difference spectra');
</script>
</body>
</html>
